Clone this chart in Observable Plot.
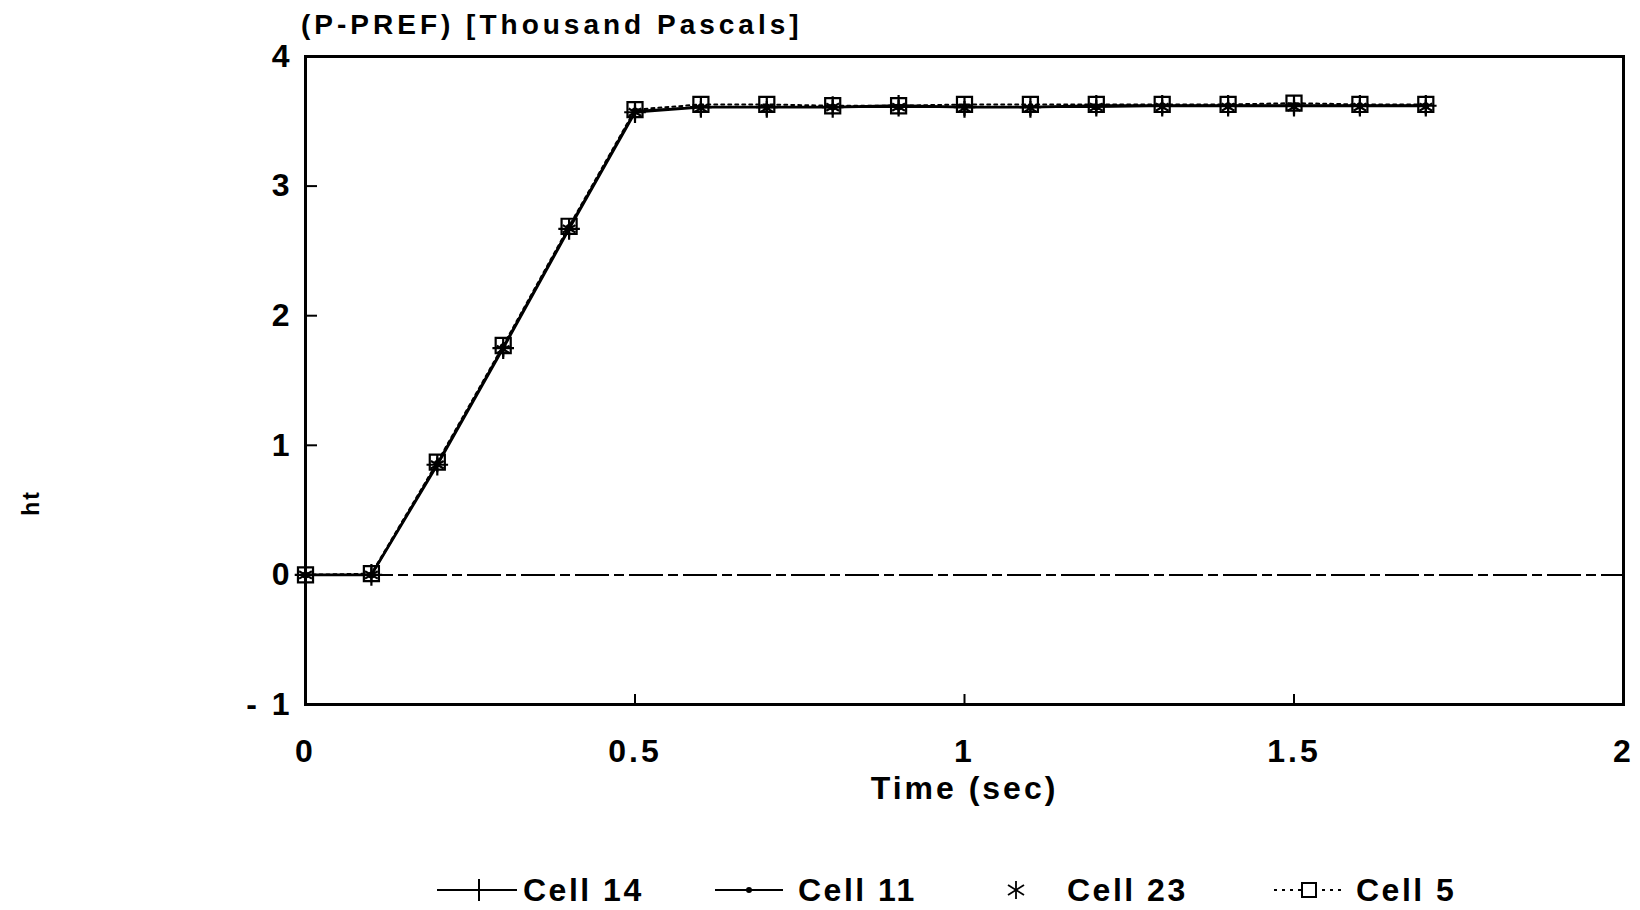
<!DOCTYPE html>
<html><head><meta charset="utf-8">
<script src="https://cdn.jsdelivr.net/npm/d3@7"></script>
<script src="https://cdn.jsdelivr.net/npm/@observablehq/plot@0.6"></script>
<style>
body{margin:0;background:#fff;font-family:"Liberation Sans",Arial,sans-serif;font-weight:bold;color:#000}
#wrap{position:relative;width:1640px;height:910px;overflow:hidden;background:#fff}
#title{position:absolute;z-index:2;left:301px;top:9px;font-size:28px;letter-spacing:4px;line-height:32px;white-space:nowrap}
#chart{position:absolute;z-index:1;left:0;top:44px}
#chart svg{overflow:visible}
#ylab{position:absolute;z-index:2;left:31px;top:503px;transform:translate(-50%,-50%) rotate(-90deg);font-size:23px;letter-spacing:2px}
#legend{position:absolute;z-index:2;top:870px;left:0;width:1640px;height:40px}
.sym{position:absolute;top:0}
.lt{position:absolute;top:0;height:40px;line-height:40px;font-size:32px;letter-spacing:2.5px;white-space:nowrap}
</style>
</head><body>
<div id="wrap">
  <div id="title">(P-PREF) [Thousand Pascals]</div>
  <div id="ylab">ht</div>
  <div id="chart"></div>
  <div id="legend"></div>
</div>
<script>
// Data
const times  = [0, 0.1, 0.2, 0.3, 0.4, 0.5, 0.6, 0.7, 0.8, 0.9, 1.0, 1.1, 1.2, 1.3, 1.4, 1.5, 1.6, 1.7];
const cell14 = [0, 0, 0.85, 1.75, 2.67, 3.57, 3.61, 3.61, 3.61, 3.62, 3.61, 3.61, 3.62, 3.62, 3.62, 3.62, 3.62, 3.62];
const cell11 = [0, 0, 0.86, 1.76, 2.68, 3.58, 3.61, 3.61, 3.61, 3.61, 3.61, 3.61, 3.61, 3.62, 3.62, 3.62, 3.62, 3.62];
const cell23 = [0, 0, 0.85, 1.74, 2.67, 3.57, 3.60, 3.60, 3.61, 3.61, 3.60, 3.60, 3.61, 3.61, 3.61, 3.61, 3.61, 3.61];
const cell5  = [0, 0.01, 0.87, 1.77, 2.69, 3.59, 3.63, 3.63, 3.62, 3.62, 3.63, 3.63, 3.63, 3.63, 3.63, 3.64, 3.63, 3.63];
const seriesNames = ["Cell 14", "Cell 11", "Cell 23", "Cell 5"];
const xTicks = [0, 0.5, 1, 1.5, 2];
const xInnerTicks = [0.5, 1, 1.5];
const yTicks = [-1, 0, 1, 2, 3, 4];
const xLabel = "Time (sec)";

const rows = (name, vals) => times.map((t, i) => ({series: name, t, v: vals[i]}));
const d14 = rows(seriesNames[0], cell14);
const d11 = rows(seriesNames[1], cell11);
const d23 = rows(seriesNames[2], cell23);
const d5  = rows(seriesNames[3], cell5);

const yFmt = d => d < 0 ? "- " + (-d) : String(d);
const xFmt = d => String(d);

const chart = Plot.plot({
  width: 1640, height: 790,
  marginLeft: 305, marginRight: 17, marginTop: 12, marginBottom: 130,
  style: {fontFamily: "Liberation Sans, Arial, sans-serif", fontSize: "32px", fontWeight: "bold", letterSpacing: "3px", color: "#000", background: "#fff", overflow: "visible"},
  x: {domain: [0, 2]},
  y: {domain: [-1, 4]},
  marks: [
    Plot.ruleY([0], {stroke: "#000", strokeWidth: 2, strokeDasharray: "34,5,10,5"}),
    Plot.frame({stroke: "#000", strokeWidth: 3}),
    Plot.axisY({ticks: yTicks, tickSize: 0, tickPadding: 13, tickFormat: yFmt, label: null}),
    Plot.axisY({ticks: yTicks, tickSize: -12, tickFormat: () => "", label: null, strokeWidth: 2}),
    Plot.axisX({ticks: xTicks, tickSize: 0, tickPadding: 35, tickFormat: xFmt, label: null}),
    Plot.axisX({ticks: xInnerTicks, tickSize: -10, tickFormat: () => "", label: null, strokeWidth: 2}),
    Plot.text([xLabel], {text: d => d, frameAnchor: "bottom", dy: 94, fontSize: 32}),
    Plot.line(d5, {x: "t", y: "v", stroke: "#000", strokeWidth: 2, strokeDasharray: "3,4"}),
    Plot.line(d14, {x: "t", y: "v", stroke: "#000", strokeWidth: 2.8}),
    Plot.line(d11, {x: "t", y: "v", stroke: "#000", strokeWidth: 2}),
    Plot.dot(d14, {x: "t", y: "v", symbol: "plus", r: 7, stroke: "#000", strokeWidth: 2.2}),
    Plot.dot(d11, {x: "t", y: "v", r: 3.5, fill: "#000", stroke: "none"}),
    Plot.dot(d23, {x: "t", y: "v", symbol: "asterisk", r: 7, stroke: "#000", strokeWidth: 2.2}),
    Plot.dot(d5, {x: "t", y: "v", symbol: "square", r: 8.5, stroke: "#000", fill: "none", strokeWidth: 2.2})
  ]
});
document.getElementById("chart").appendChild(chart);

// Legend
const legend = document.getElementById("legend");
const ns = "http://www.w3.org/2000/svg";
function addSym(left, w, draw) {
  const s = document.createElementNS(ns, "svg");
  s.setAttribute("width", w); s.setAttribute("height", 40);
  s.setAttribute("class", "sym"); s.style.left = left + "px";
  s.innerHTML = draw(w);
  legend.appendChild(s);
}
function addText(left, txt) {
  const d = document.createElement("div");
  d.className = "lt"; d.style.left = left + "px"; d.textContent = txt;
  legend.appendChild(d);
}
addSym(437, 80, w => `<line x1="0" y1="20" x2="${w}" y2="20" stroke="#000" stroke-width="2"/><line x1="42" y1="9" x2="42" y2="31" stroke="#000" stroke-width="2"/>`);
addText(523, seriesNames[0]);
addSym(715, 68, w => `<line x1="0" y1="20" x2="${w}" y2="20" stroke="#000" stroke-width="2"/><circle cx="34" cy="20" r="3" fill="#000"/>`);
addText(798, seriesNames[1]);
addSym(1004, 24, w => `<g stroke="#000" stroke-width="1.8"><line x1="12" y1="11" x2="12" y2="29"/><line x1="4" y1="15" x2="20" y2="25"/><line x1="4" y1="25" x2="20" y2="15"/></g>`);
addText(1067, seriesNames[2]);
addSym(1274, 70, w => `<line x1="0" y1="20" x2="${w}" y2="20" stroke="#000" stroke-width="2" stroke-dasharray="3,5"/><rect x="28" y="13" width="14" height="14" fill="#fff" stroke="#000" stroke-width="2"/>`);
addText(1356, seriesNames[3]);
</script>
</body></html>
